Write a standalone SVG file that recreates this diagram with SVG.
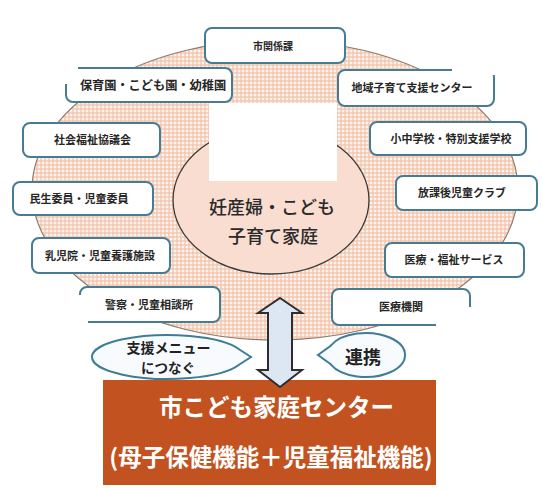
<svg xmlns="http://www.w3.org/2000/svg" width="543" height="490" viewBox="0 0 543 490">
<defs>
<pattern id="gingham" width="4" height="4" patternUnits="userSpaceOnUse">
<rect width="4" height="4" fill="#fdf3ee"/>
<rect x="0" y="0" width="4" height="2" fill="#f3c4aa" opacity="0.65"/>
<rect x="0" y="0" width="2" height="4" fill="#f3c4aa" opacity="0.65"/>
</pattern>
<style>
.box{fill:#ffffff;stroke:#467b93;stroke-width:2}
.lbl{font-family:"Noto Sans CJK JP","Noto Sans",sans-serif;font-size:11px;font-weight:bold;fill:#262626;text-anchor:middle}
.bubble{fill:#f7fbfd;stroke:#3f7d96;stroke-width:2}
.btxt{font-family:"Noto Sans CJK JP","Noto Sans",sans-serif;font-weight:bold;fill:#222;text-anchor:middle}
.ctr{font-family:"Noto Sans CJK JP","Noto Sans",sans-serif;font-size:18px;font-weight:500;fill:#2a2a2a;text-anchor:middle}
.bar{font-family:"Noto Sans CJK JP","Noto Sans",sans-serif;font-size:23.5px;font-weight:bold;fill:#ffffff;text-anchor:middle}
.patch{fill:#ffffff}
</style>
</defs>
<rect width="543" height="490" fill="#ffffff"/>

<g id="network-circle">
<ellipse cx="275" cy="190" rx="243" ry="150" fill="url(#gingham)" stroke="#8d7a6e" stroke-width="1.2"/>
</g>

<g id="family">
<ellipse cx="271" cy="200" rx="98" ry="74" fill="#f9ddd0" stroke="#3a3a3a" stroke-width="1.3"/>
<text class="ctr" x="272" y="214">妊産婦・こども</text>
<text class="ctr" x="273" y="243">子育て家庭</text>
</g>

<g id="node-shikankeika">
<rect class="box" x="205" y="28" width="140" height="35" rx="7"/>
<text class="lbl" x="273" y="49.5" style="font-size:10px">市関係課</text>
</g>
<g id="node-hoikuen">
<rect class="box" x="66" y="68" width="166" height="34" rx="7"/>
<text class="lbl" x="153" y="89.5" style="font-size:12.2px">保育園・こども園・幼稚園</text>
</g>
<g id="node-chiiki">
<rect class="box" x="338" y="70" width="156" height="36" rx="7"/>
<text class="lbl" x="412" y="92">地域子育て支援センター</text>
</g>
<g id="node-shochu">
<rect class="box" x="370" y="122" width="156" height="33" rx="7"/>
<text class="lbl" x="451" y="142.5">小中学校・特別支援学校</text>
</g>
<g id="node-houkago">
<rect class="box" x="396" y="176" width="141" height="34" rx="7"/>
<text class="lbl" x="462" y="197">放課後児童クラブ</text>
</g>
<g id="node-iryoufukushi">
<rect class="box" x="385" y="243" width="139" height="34" rx="7"/>
<text class="lbl" x="454" y="264">医療・福祉サービス</text>
</g>
<g id="node-iryoukikan">
<rect class="box" x="332" y="289" width="138" height="36" rx="7"/>
<text class="lbl" x="401" y="311">医療機関</text>
</g>
<g id="node-shakaifukushi">
<rect class="box" x="23" y="123" width="137" height="34" rx="7"/>
<text class="lbl" x="92.5" y="144">社会福祉協議会</text>
</g>
<g id="node-minsei">
<rect class="box" x="13" y="182" width="140" height="33" rx="7"/>
<text class="lbl" x="79" y="202.5">民生委員・児童委員</text>
</g>
<g id="node-nyujiin">
<rect class="box" x="32" y="238" width="138" height="35" rx="7"/>
<text class="lbl" x="100" y="259.5">乳児院・児童養護施設</text>
</g>
<g id="node-keisatsu">
<rect class="box" x="80" y="287" width="140" height="35" rx="7"/>
<text class="lbl" x="149" y="308.5">警察・児童相談所</text>
</g>

<g id="blanked-areas">
<rect class="patch" x="0" y="0" width="78" height="84"/>
<rect class="patch" x="452" y="0" width="91" height="75"/>
<rect class="patch" x="209" y="103" width="128" height="78"/>
<rect class="patch" x="0" y="295" width="88" height="195"/>
<rect class="patch" x="436" y="307" width="107" height="183"/>
</g>

<g id="bubble-menu">
<path class="bubble" d="M239.4 349.5 A76 22 0 1 0 239.4 364.5 L251 357 Z"/>
<text class="btxt" x="168.5" y="353" style="font-size:14px">支援メニュー</text>
<text class="btxt" x="168" y="373" style="font-size:13.5px">につなぐ</text>
</g>
<g id="bubble-renkei">
<path class="bubble" d="M330.7 345.7 A39 22 0 1 1 330.7 364.3 L318 355 Z"/>
<text class="btxt" x="363" y="363.5" style="font-size:18px">連携</text>
</g>

<g id="center-bar">
<rect x="103" y="380" width="333" height="105" fill="#c25320"/>
<text class="bar" x="276.5" y="415.5">市こども家庭センター</text>
<text class="bar" x="271" y="465.5">(母子保健機能＋児童福祉機能)</text>
</g>

<g id="connectors">
<path d="M280 298 L302 313 L292 313 L292 370 L302 370 L280 387 L258 370 L268 370 L268 313 L258 313 Z" fill="#dce7f3" stroke="#2e2e2e" stroke-width="2" stroke-linejoin="miter"/>
</g>
</svg>
